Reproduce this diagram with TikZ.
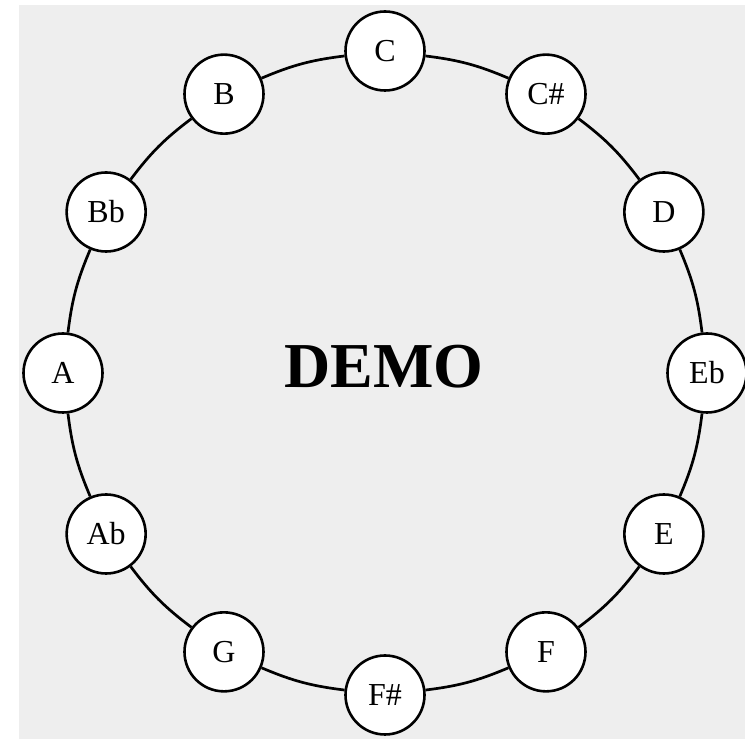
\documentclass[tikz,border=0pt]{standalone}
\usepackage{fontspec}
\setmainfont{Liberation Serif}
\definecolor{bgcol}{HTML}{EEEEEE}
\begin{document}
\begin{tikzpicture}[x=1pt,y=1pt,
  note/.style={circle, draw=black, line width=2.6pt, fill=white, minimum size=79pt, inner sep=0pt, font=\fontsize{32}{34}\selectfont},
  ring/.style={line width=2.7pt, draw=black}]
\useasboundingbox (0,0) rectangle (745,739);
\fill[white] (0,0) rectangle (745,739);
\fill[bgcol] (19,0) rectangle (745,734);
\foreach \lab [count=\i from 0] in {C,C\#,D,Eb,E,F,F\#,G,Ab,A,Bb,B}{
  \node[note] (n\i) at ({385+322*cos(90-30*\i)},{366+322*sin(90-30*\i)}) {\lab};
}
\foreach \i [evaluate=\i as \j using {int(mod(\i+1,12))}] in {0,...,11}{
  \draw[ring] (n\i) to[bend left=8] (n\j);
}
\node[font=\bfseries\fontsize{64}{66}\selectfont, inner sep=0pt] (title) at (384,372.5) {DEMO};
\end{tikzpicture}
\end{document}
